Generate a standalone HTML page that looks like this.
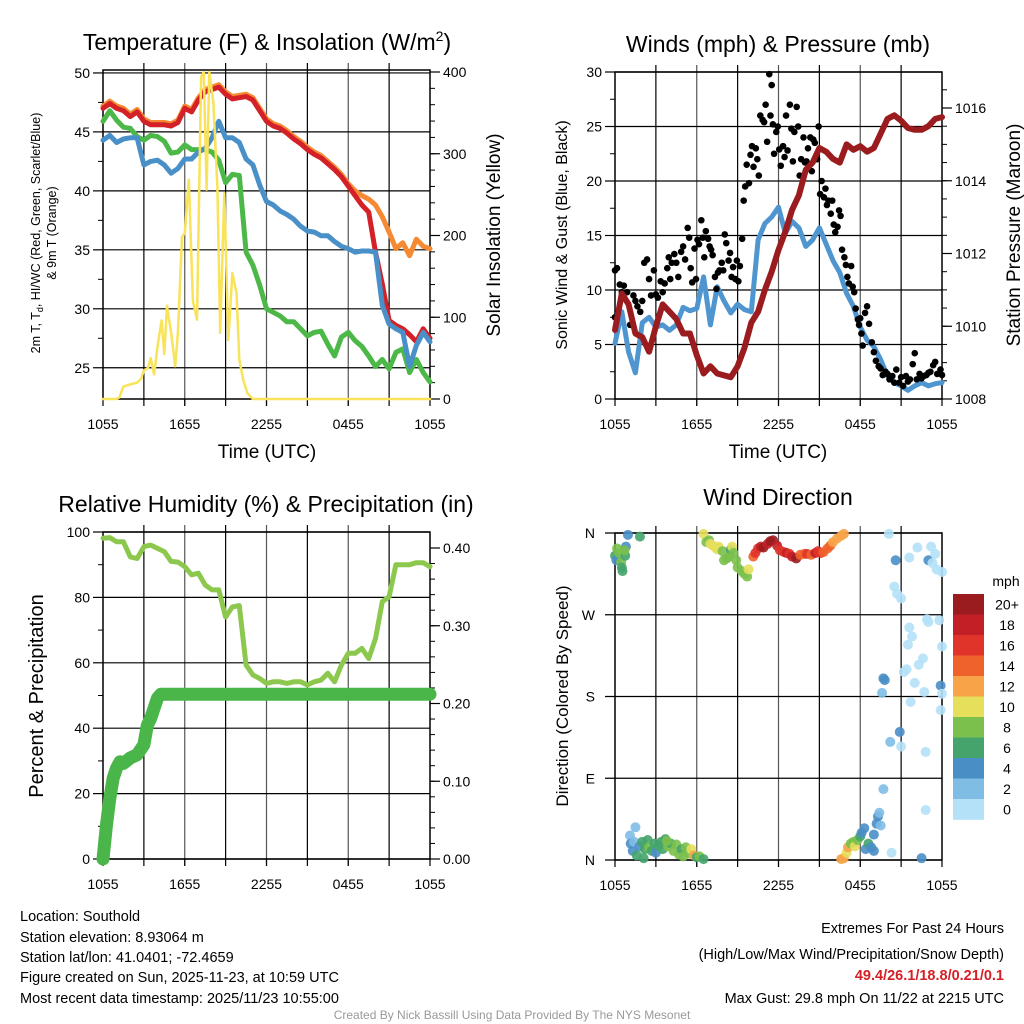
<!DOCTYPE html>
<html><head><meta charset="utf-8"><style>
html,body{margin:0;padding:0;background:#fff;}
svg{display:block;font-family:"Liberation Sans",Arial,sans-serif;}
</style></head><body>
<svg id="chart" width="1024" height="1024" viewBox="0 0 1024 1024">
<rect x="0" y="0" width="1024" height="1024" fill="#fff"/>
<g id="p1"></g>
<g id="p2"></g>
<g id="p3"></g>
<g id="p4"></g>
<g font-size="14.5" fill="#000">
<text x="20" y="921">Location: Southold</text>
<text x="20" y="942">Station elevation: 8.93064 m</text>
<text x="20" y="962">Station lat/lon: 41.0401; -72.4659</text>
<text x="20" y="982">Figure created on Sun, 2025-11-23, at 10:59 UTC</text>
<text x="20" y="1003">Most recent data timestamp: 2025/11/23 10:55:00</text>
<text x="1004" y="933" text-anchor="end">Extremes For Past 24 Hours</text>
<text x="1004" y="959" text-anchor="end">(High/Low/Max Wind/Precipitation/Snow Depth)</text>
<text x="1004" y="980" text-anchor="end" fill="#d42027" font-weight="bold">49.4/26.1/18.8/0.21/0.1</text>
<text x="1004" y="1003" text-anchor="end">Max Gust: 29.8 mph On 11/22 at 2215 UTC</text>
<text x="512" y="1019" text-anchor="middle" font-size="12" fill="#999">Created By Nick Bassill Using Data Provided By The NYS Mesonet</text>
</g>
</svg>
<script>
// ---------- DATA ----------
const halfHours = [0,0.5,1,1.5,2,2.5,3,3.5,4,4.5,5,5.5,6,6.5,7,7.5,8,8.5,9,9.5,10,10.5,11,11.5,12,12.5,13,13.5,14,14.5,15,15.5,16,16.5,17,17.5,18,18.5,19,19.5,20,20.5,21,21.5,22,22.5,23,23.5,24];
const xTickLabels = ["1055","1655","2255","0455","1055"];
const tempRed = [47.0,47.4,47.0,46.8,46.3,46.7,45.9,45.6,45.6,45.6,45.5,45.8,47.0,46.7,47.7,48.4,48.6,48.8,48.2,47.8,47.9,48.0,47.7,46.8,45.9,45.5,45.3,44.9,44.4,44.0,43.5,43.1,42.8,42.3,41.8,41.2,40.4,39.6,38.8,38.2,34.8,32.1,29.0,28.6,28.3,27.8,27.2,28.3,27.5];
const temp9m = [47.2,47.6,47.2,47.0,46.5,46.9,46.1,45.8,45.8,45.8,45.7,46.0,47.2,46.9,47.9,48.6,48.8,49.0,48.4,48.0,48.1,48.2,47.9,47.0,46.1,45.7,45.5,45.1,44.6,44.2,43.7,43.3,43.0,42.5,42.0,41.4,40.6,40.0,39.6,39.3,38.8,37.8,36.5,35.1,35.6,34.5,35.9,35.3,35.1];
const windChill = [44.3,44.7,44.1,44.4,44.5,44.5,42.2,42.5,42.6,42.2,41.5,41.9,42.7,42.7,43.3,43.6,44.5,45.9,44.5,44.5,44.1,42.7,42.2,40.5,39.1,38.8,38.3,38.0,37.6,37.0,36.6,36.5,36.2,36.2,35.7,35.3,35.1,34.8,34.9,34.9,34.8,30.3,28.7,28.3,28.0,25.1,26.9,28.0,27.2];
const dewpoint = [45.9,46.8,46.0,45.4,45.3,44.6,44.3,44.7,44.6,44.2,43.2,43.3,43.9,43.5,43.5,43.5,43.3,42.6,40.7,41.4,41.3,34.8,33.7,32.0,30.0,29.7,29.4,28.9,28.9,28.3,27.7,28.0,28.1,27.0,26.0,27.6,28.0,27.3,26.8,26.0,25.1,25.7,24.9,26.3,26.6,24.6,25.7,24.6,23.8];
const solarHours = [0,1,1.2,1.5,2,2.5,2.8,3,3.3,3.5,3.75,4,4.3,4.5,4.7,5,5.3,5.5,5.8,6,6.3,6.6,6.9,7.2,7.4,7.6,7.8,8.1,8.4,8.6,8.9,9.2,9.5,9.8,10,10.3,10.6,11,24];
const solarVals = [0,0,2,15,18,20,25,35,38,50,30,64,96,55,114,81,40,81,198,203,268,120,97,394,400,256,400,362,259,81,252,72,154,130,48,23,7,0,0];
const windSpeed = [5.1,8.0,4.3,2.4,7.0,7.5,6.6,6.8,6.3,6.8,8.4,8.1,8.3,11.2,6.8,10.3,9.0,7.9,8.7,8.2,8.0,14.6,16.1,16.7,17.6,15.2,16.3,15.7,14.0,14.6,15.7,14.2,12.7,11.6,9.7,8.5,6.6,5.4,4.8,3.6,2.1,1.5,1.2,0.8,1.2,1.5,1.2,1.4,1.5];
const pressure = [1009.9,1010.9,1010.6,1009.8,1009.7,1009.3,1010.0,1010.6,1010.4,1010.2,1009.8,1009.8,1009.2,1008.7,1008.9,1008.7,1008.65,1008.6,1008.9,1009.4,1010.1,1010.4,1011.0,1011.5,1012.1,1012.6,1013.2,1013.6,1014.3,1014.5,1014.9,1014.8,1014.6,1014.5,1015.0,1014.85,1014.95,1014.8,1014.9,1015.3,1015.7,1015.8,1015.65,1015.45,1015.4,1015.4,1015.5,1015.7,1015.75];
const gustGroups = [[7.5,11.8,12],[10.5,9.8,10.4],[9.8,6.8],[9.5,9,8.5],[8,9,12.5],[12.8,11,9.5],[11.8,9.6,9.3],[10.8,9.8,10.6],[12,13,11,12.5],[13.3,12.5,11.2],[13.5,14,12.8],[15.7,14.8,12,10.7],[13.8,11,14.6,14.2],[16.4,14.8,13,15.4],[14.7,14,13.7,13.2],[11.2,10.1,11.6,11.8],[12.5,11.8,15.1,14.3],[12.7,13.4,11.2,12.1],[11,12.7,10.8,12.2],[14.7,18.2,19.5,21.5],[19.8,22.4,23.2,21.3],[23,22,20.5,26],[25.6,25.4,27,23.6],[29.8,26,28.8,25.2,22.5],[24.5,25,22.9,21.4],[23.2,22.2,26,22.8],[27,24.8,21.8,24.5],[26.8,25,20.5,22],[24,21.7,21.8,23],[24,20.9,23.8,23.5],[22,25,18.8,20],[18.5,19.3,17.8,18.2],[17,18.2,16,15.3],[15.8,17.3,16.8,13.7],[13,12.3,11.2,10.6],[12.2,10.3,9.8,8.3],[7.3,6.8,7.4,6,4.9],[7.9,8.5,6.9],[5.2,4.3,3.5],[3,2.8,2.2],[2.5,2.3,1.8],[2.1,1.5,2.7],[1.5,2.0,1.2],[2.1,1.6,1.8],[3.2,4.2,1.8],[2.3,1.9,2.1],[2.2,2.4,2.5],[3.1,3.4,2.3],[2.7,2.2]];
const rhVals = [98.1,98.3,97.0,97.0,92.4,91.9,95.5,96.0,95.0,94.0,91.0,90.8,89.4,86.9,87.4,83.8,82.3,82.3,74.0,77.1,77.5,59.3,56.3,55.2,53.7,54.2,54.2,53.7,54.2,54.2,53.2,54.2,54.7,56.8,54.2,59.3,62.9,62.9,64.4,61.3,67.4,78.7,80.2,90.0,90.0,90.0,90.6,90.6,89.4];
const precipHours = [0,0.25,0.5,0.75,1,1.25,1.5,2,2.5,3,3.25,3.5,3.75,4,4.25,24];
const precipVals = [0,0.043,0.078,0.104,0.117,0.125,0.123,0.130,0.134,0.147,0.172,0.181,0.194,0.207,0.212,0.212];
const dirHours = [0.0,0.1,0.15,0.3,0.45,0.5,0.55,0.75,0.8,0.95,1.83,0.7,6.5,6.7,6.9,7.0,7.2,7.4,7.5,7.6,7.9,8.0,8.2,8.4,8.5,8.6,8.7,8.9,9.0,9.3,9.5,9.7,9.8,10.15,10.3,10.5,10.7,10.9,11.2,11.4,11.6,11.9,12.1,12.4,12.6,12.8,13.0,13.3,13.6,13.9,14.1,14.4,14.7,14.9,15.1,15.3,15.6,15.8,16.0,16.3,16.6,16.8,1.1,1.15,1.3,1.4,1.6,1.8,2.0,2.2,2.4,2.5,2.7,2.9,3.0,3.2,3.4,3.5,3.7,3.9,4.1,4.3,4.5,4.7,4.9,5.0,5.2,5.4,5.6,5.8,6.0,6.2,6.5,1.5,2.1,3.8,16.6,16.8,17.0,17.1,17.3,17.5,17.6,17.8,18.0,18.1,18.3,18.4,18.6,18.8,19.0,19.2,19.3,19.4,19.5,19.7,19.0,19.6,19.7,19.8,20.2,20.3,20.5,20.6,20.7,20.9,21.0,21.0,21.2,21.4,21.5,21.6,21.7,21.8,22.2,22.3,22.5,22.6,22.7,22.8,22.9,23.0,23.0,23.3,23.5,23.6,23.8,23.9,24.0,23.9,24.0,24.0,22.0,22.8,20.1,21.6,23.2];
const dirDegs = [335,330,343,338,328,322,318,335,345,358,356,341,359,350,352,348,346,344,342,345,340,330,332,334,342,345,338,330,322,318,315,312,320,334,338,343,345,344,348,351,352,346,341,339,338,337,334,332,336,337,337,336,338,340,338,339,343,346,350,354,357,359,27,18,10,20,5,15,20,12,22,14,10,18,8,16,20,12,23,15,18,10,17,6,12,4,14,7,12,5,3,4,1,36,2,21,1,2,8,14,18,20,15,22,26,30,35,12,18,14,28,40,48,52,38,78,10,184,200,198,130,8,301,330,293,141,125,288,207,210,237,256,174,246,344,215,2,222,185,119,265,262,330,327,337,320,264,165,317,192,183,235,195,55,359,333,345];
const dirSpeeds = [6,4,8,8,8,6,6,6,4,4,6,8,10,8,8,10,10,10,10,10,8,8,8,8,6,10,8,8,8,8,8,8,10,14,16,16,18,20,18,20,20,18,16,16,18,16,18,20,14,14,16,14,18,16,16,14,14,14,12,12,12,12,2,4,4,2,6,4,6,6,6,8,6,6,4,6,6,6,6,8,6,8,8,8,6,8,8,8,10,12,6,8,6,2,6,8,12,12,10,12,8,8,10,8,6,4,4,4,6,4,4,4,4,2,2,2,4,2,4,4,2,0,0,4,0,4,0,0,0,0,0,0,0,0,0,0,4,0,0,0,0,0,4,0,0,0,0,0,0,4,0,0,0,0,0,0,0];
const speedBins = ["0","2","4","6","8","10","12","14","16","18","20+"];
const speedColors = ["#b4e1f7","#80bde5","#4a8ec6","#44a46c","#7bc04c","#e5df5c","#f7a347","#f0622b","#e0332a","#c21f26","#9b1c1f"];

// ---------- HELPERS ----------
const NS = "http://www.w3.org/2000/svg";
function mk(parent, tag, attrs, text) {
  const e = document.createElementNS(NS, tag);
  for (const k in attrs) e.setAttribute(k, attrs[k]);
  if (text !== undefined) e.textContent = text;
  parent.appendChild(e);
  return e;
}
function lin(d0, d1, r0, r1) { return v => r0 + (v - d0) * (r1 - r0) / (d1 - d0); }
function pathFrom(xs, ys, fx, fy) {
  return xs.map((x, i) => (i ? "L" : "M") + fx(x).toFixed(1) + "," + fy(ys[i]).toFixed(1)).join("");
}

function frame(g, X0, X1, Y0, Y1, xs) {
  for (let h = 3; h < 24; h += 3) {
    const l = mk(g, "line", {x1: xs(h), x2: xs(h), y1: Y0 - 7, y2: Y1 + 7, stroke: h % 6 ? "#000" : "#555", "stroke-width": 1.2});
    
    
  }
  const fr = mk(g, "rect", {x: X0, y: Y0, width: X1 - X0, height: Y1 - Y0, fill: "none", stroke: "#000", "stroke-width": 1.5});
  
  
  for (let i = 0; i < 5; i++) {
    const h = i * 6;
    mk(g, "line", {x1: xs(h), x2: xs(h), y1: Y1, y2: Y1 + 7, stroke: "#000", "stroke-width": 1.2});
    const t = mk(g, "text", {x: xs(h), y: Y1 + 30, "text-anchor": "middle", "font-size": 14}, xTickLabels[i]);
    
    
  }
}
function leftAxis(g, X0, X1, ys, majors, minors, labelFn, grid) {
  majors.forEach(v => {
    if (grid) mk(g, "line", {x1: X0, x2: X1, y1: ys(v), y2: ys(v), stroke: "#000", "stroke-width": 1.2});
    mk(g, "line", {x1: X0 - 10, x2: X0, y1: ys(v), y2: ys(v), stroke: "#000", "stroke-width": 1.2});
    const t = mk(g, "text", {x: X0 - 13, y: ys(v) + 5, "text-anchor": "end", "font-size": 14}, labelFn(v));
    
    
  });
  minors.forEach(v => mk(g, "line", {x1: X0 - 5, x2: X0, y1: ys(v), y2: ys(v), stroke: "#000", "stroke-width": 1}));
}
function rightAxis(g, X1, ys, majors, minors, labelFn) {
  majors.forEach(v => {
    mk(g, "line", {x1: X1, x2: X1 + 10, y1: ys(v), y2: ys(v), stroke: "#000", "stroke-width": 1.2});
    const t = mk(g, "text", {x: X1 + 13, y: ys(v) + 5, "font-size": 14}, labelFn(v));
    
    
  });
  minors.forEach(v => mk(g, "line", {x1: X1, x2: X1 + 5, y1: ys(v), y2: ys(v), stroke: "#000", "stroke-width": 1}));
}
function range(a, b, s) { const r = []; for (let v = a; v <= b + 1e-9; v += s) r.push(+v.toFixed(4)); return r; }
function line(g, xs, vals, fx, fy, color, w, name) {
  const p = mk(g, "path", {d: pathFrom(xs, vals, fx, fy), fill: "none", stroke: color, "stroke-width": w, "stroke-linejoin": "round", "stroke-linecap": "round"});
  
  
  return p;
}
function vtext(g, x, y, size, txt, rot, name) {
  const t = mk(g, "text", {x: x, y: y, "text-anchor": "middle", "font-size": size, transform: "rotate(" + rot + " " + x + " " + y + ")"}, txt);
  
  
  return t;
}

// ---------- PANEL 1: Temperature ----------
(function () {
  const g = document.getElementById("p1");
  const X0 = 103, X1 = 430, Y0 = 70, Y1 = 399;
  const xs = lin(0, 24, X0, X1);
  const yT = lin(22.35, 50.25, Y1, Y0);
  const yS = lin(0, 400, Y1, 72);
  frame(g, X0, X1, Y0, Y1, xs);
  leftAxis(g, X0, X1, yT, range(25, 50, 5), range(27.5, 47.5, 5), v => String(v), true);
  rightAxis(g, X1, yS, range(0, 400, 100), range(0, 400, 20), v => String(v));
  line(g, halfHours, temp9m, xs, yT, "#f58a33", 5, "temp-9m-line");
  line(g, halfHours, tempRed, xs, yT, "#d42027", 5, "temp-2m-line");
  line(g, halfHours, dewpoint, xs, yT, "#4cb848", 5, "dewpoint-line");
  line(g, halfHours, windChill, xs, yT, "#4a90c8", 5, "windchill-line");
  line(g, solarHours, solarVals, xs, yS, "#f9e35a", 2.5, "solar-line");
  const t = mk(g, "text", {x: 267, y: 50, "text-anchor": "middle", "font-size": 23}, "Temperature (F) & Insolation (W/m");
  
  
  mk(t, "tspan", {dy: -9, "font-size": 14}, "2");
  mk(t, "tspan", {dy: 9}, ")");
  const xl = mk(g, "text", {x: 267, y: 458, "text-anchor": "middle", "font-size": 19}, "Time (UTC)");
  
  
  const yl = vtext(g, 40, 233, 12.5, "", -90, "temperature-y-title");
  yl.textContent = "2m T, T";
  mk(yl, "tspan", {dy: 3, "font-size": 9}, "d");
  mk(yl, "tspan", {dy: -3}, ", HI/WC (Red, Green, Scarlet/Blue)");
  vtext(g, 56, 233, 12.5, "& 9m T (Orange)", -90, "temperature-y-title-2");
  vtext(g, 500, 235, 19, "Solar Insolation (Yellow)", -90, "solar-y-title");
})();

// ---------- PANEL 2: Winds ----------
(function () {
  const g = document.getElementById("p2");
  const X0 = 615, X1 = 942, Y0 = 72, Y1 = 399;
  const xs = lin(0, 24, X0, X1);
  const yW = lin(0, 30, Y1, Y0);
  const yP = lin(1008, 1016, Y1, 108);
  frame(g, X0, X1, Y0, Y1, xs);
  leftAxis(g, X0, X1, yW, range(0, 30, 5), range(2.5, 27.5, 5), v => String(v), true);
  rightAxis(g, X1, yP, range(1008, 1016, 2), range(1008, 1016.5, 0.5), v => String(v));
  line(g, halfHours, windSpeed, xs, yW, "#4f95d0", 5, "sonic-wind-line");
  gustGroups.forEach((grp, k) => {
    grp.forEach((v, j) => {
      let h = k * 0.5 - 0.22 + (j + 0.5) * 0.44 / grp.length;
      h = Math.max(0, Math.min(24, h));
      const c = mk(g, "circle", {cx: xs(h), cy: yW(v), r: 3.3, fill: "#000"});
      
      
    });
  });
  line(g, halfHours, pressure, xs, yP, "#9b1c1f", 6, "pressure-line");
  const t = mk(g, "text", {x: 778, y: 52, "text-anchor": "middle", "font-size": 23}, "Winds (mph) & Pressure (mb)");
  
  
  const xl = mk(g, "text", {x: 778, y: 458, "text-anchor": "middle", "font-size": 19}, "Time (UTC)");
  
  
  vtext(g, 567, 235, 16, "Sonic Wind & Gust (Blue, Black)", -90, "wind-y-title");
  vtext(g, 1020, 235, 19, "Station Pressure (Maroon)", -90, "pressure-y-title");
})();

// ---------- PANEL 3: RH & Precip ----------
(function () {
  const g = document.getElementById("p3");
  const X0 = 103, X1 = 430, Y0 = 532, Y1 = 859;
  const xs = lin(0, 24, X0, X1);
  const yR = lin(0, 100, Y1, Y0);
  const yPr = lin(0, 0.4, Y1, 548);
  frame(g, X0, X1, Y0, Y1, xs);
  leftAxis(g, X0, X1, yR, range(0, 100, 20), range(10, 90, 20), v => String(v), true);
  rightAxis(g, X1, yPr, range(0, 0.4, 0.1), range(0, 0.4, 0.02), v => v.toFixed(2));
  line(g, halfHours, rhVals, xs, yR, "#8dc84e", 5, "humidity-line");
  line(g, precipHours, precipVals, xs, yPr, "#4ab548", 13, "precip-line");
  const t = mk(g, "text", {x: 266, y: 512, "text-anchor": "middle", "font-size": 23}, "Relative Humidity (%) & Precipitation (in)");
  
  
  vtext(g, 43, 696, 20, "Percent & Precipitation", -90, "humidity-y-title");
})();

// ---------- PANEL 4: Wind Direction ----------
(function () {
  const g = document.getElementById("p4");
  const X0 = 615, X1 = 942, Y0 = 533, Y1 = 860;
  const xs = lin(0, 24, X0, X1);
  const yD = lin(0, 360, Y1, Y0);
  frame(g, X0, X1, Y0, Y1, xs);
  const dl = ["N", "E", "S", "W", "N"];
  [0, 90, 180, 270, 360].forEach((d, i) => {
    mk(g, "line", {x1: X0 - 10, x2: X1, y1: yD(d), y2: yD(d), stroke: "#000", "stroke-width": 1.2});
    const t = mk(g, "text", {x: X0 - 20, y: yD(d) + 5, "text-anchor": "end", "font-size": 14}, dl[i]);
    
    
  });
  dirHours.forEach((h, i) => {
    const bin = Math.min(10, Math.floor(dirSpeeds[i] / 2));
    const c = mk(g, "circle", {cx: xs(h), cy: yD(dirDegs[i]), r: 5, fill: speedColors[bin], "fill-opacity": 0.9});
    
    
  });
  const t = mk(g, "text", {x: 778, y: 505, "text-anchor": "middle", "font-size": 23}, "Wind Direction");
  
  
  vtext(g, 568, 696, 17, "Direction (Colored By Speed)", -90, "direction-y-title");
  const lg = mk(g, "g", {});
  
  
  const mt = mk(lg, "text", {x: 1006, y: 586, "text-anchor": "middle", "font-size": 14}, "mph");
  
  
  const bh = 20.5, top = 594;
  for (let i = 0; i < speedBins.length; i++) {
    const k = speedBins.length - 1 - i;
    const r = mk(lg, "rect", {x: 953, y: top + i * bh, width: 31, height: bh + 0.3, fill: speedColors[k]});
    
    
    const tt = mk(lg, "text", {x: 1007, y: top + i * bh + bh / 2 + 5, "text-anchor": "middle", "font-size": 14}, speedBins[k]);
    
    
  }
})();
</script>
</body></html>
